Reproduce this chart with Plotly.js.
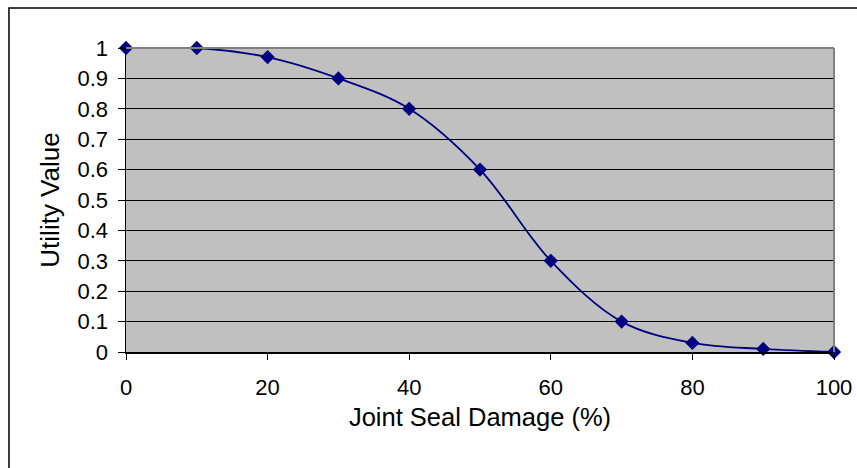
<!DOCTYPE html>
<html>
<head>
<meta charset="utf-8">
<script src="https://cdn.plot.ly/plotly-3.0.1.min.js"></script>
<style>
html,body{margin:0;padding:0;background:#fff;}
#chart{width:857px;height:468px;}
</style>
</head>
<body>
<div id="chart"></div>
<script>
// Data
var damage = [0, 10, 20, 30, 40, 50, 60, 70, 80, 90, 100];
var utility = [1, 1, 0.97, 0.9, 0.8, 0.6, 0.3, 0.1, 0.03, 0.01, 0];
var xTicks = [0, 20, 40, 60, 80, 100];
var yTicks = [0, 0.1, 0.2, 0.3, 0.4, 0.5, 0.6, 0.7, 0.8, 0.9, 1];
var yTickLabels = ['0', '0.1', '0.2', '0.3', '0.4', '0.5', '0.6', '0.7', '0.8', '0.9', '1'];
var xTitle = 'Joint Seal Damage (%)';
var yTitle = 'Utility Value';

var FONT = '"Liberation Sans", Arial, sans-serif';

var trace = {
  x: damage,
  y: utility,
  type: 'scatter',
  mode: 'lines+markers',
  line: {shape: 'spline', smoothing: 1, color: '#000080', width: 1.8},
  marker: {symbol: 'diamond', size: 11, color: '#000080', line: {width: 0}},
  cliponaxis: false,
  hoverinfo: 'skip'
};

var layout = {
  width: 857,
  height: 468,
  margin: {l: 126, r: 23, t: 48, b: 116, pad: 0},
  paper_bgcolor: '#ffffff',
  plot_bgcolor: '#c0c0c0',
  showlegend: false,
  font: {family: FONT, color: '#000000', size: 22},
  xaxis: {
    range: [0, 100],
    tickvals: xTicks,
    ticktext: xTicks.map(String),
    ticks: 'outside',
    ticklen: 6,
    tickwidth: 1,
    tickcolor: '#000000',
    ticklabelstandoff: 9,
    showgrid: false,
    zeroline: false,
    showline: true,
    linecolor: '#000000',
    linewidth: 1.5,
    tickfont: {family: FONT, size: 22, color: '#000000'},
    title: {text: xTitle, font: {family: FONT, size: 25.5, color: '#000000'}, standoff: 9},
    fixedrange: true
  },
  yaxis: {
    range: [0, 1],
    tickvals: yTicks,
    ticktext: yTickLabels,
    ticks: 'outside',
    ticklen: 7,
    tickwidth: 1,
    tickcolor: '#000000',
    ticklabelstandoff: 5,
    showgrid: true,
    gridcolor: '#000000',
    gridwidth: 1,
    zeroline: false,
    showline: true,
    linecolor: '#000000',
    linewidth: 1.5,
    tickfont: {family: FONT, size: 22, color: '#000000'},
    title: {text: yTitle, font: {family: FONT, size: 26, color: '#000000'}, standoff: 10},
    fixedrange: true
  },
  shapes: [
    // grey top and right border of the plot area
    {type: 'line', xref: 'paper', yref: 'paper', x0: 0, x1: 1, y0: 1, y1: 1,
     line: {color: '#808080', width: 2}, layer: 'above'},
    {type: 'line', xref: 'paper', yref: 'paper', x0: 1, x1: 1, y0: 0, y1: 1,
     line: {color: '#808080', width: 2}, layer: 'above'},
    // outer chart frame (left and top visible)
    {type: 'rect', xref: 'paper', yref: 'paper', x0: -0.1653, x1: 1.2, y0: -0.5, y1: 1.1316,
     line: {color: '#000000', width: 1.5}, layer: 'below'}
  ]
};

Plotly.newPlot('chart', [trace], layout, {staticPlot: true, displayModeBar: false});
</script>
</body>
</html>
